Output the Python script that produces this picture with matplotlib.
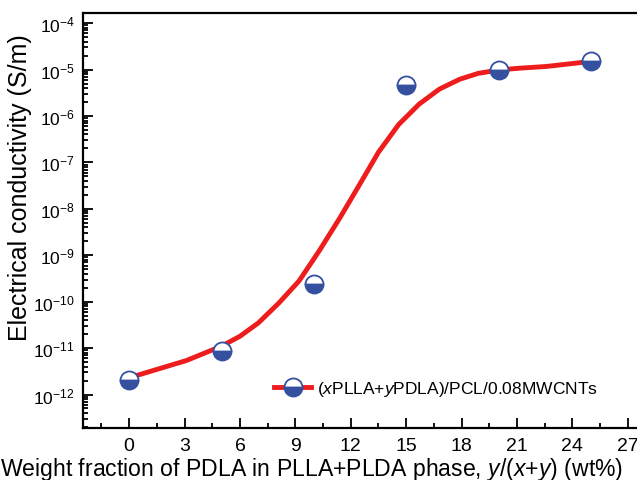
import matplotlib
matplotlib.use("Agg")
import matplotlib.pyplot as plt
from matplotlib.ticker import MultipleLocator, LogLocator, NullFormatter

plt.rcParams['font.family'] = ['Liberation Sans', 'DejaVu Sans']
plt.rcParams['mathtext.fontset'] = 'custom'
plt.rcParams['mathtext.rm'] = 'Liberation Sans'
plt.rcParams['mathtext.it'] = 'Liberation Sans:italic'

# measured points
pdla_frac = [0, 5, 10, 15, 20, 25]
conductivity = [2.1e-12, 8.5e-12, 2.4e-10, 4.7e-6, 1.0e-5, 1.5e-5]

# fitted curve
curve_x = [0, 1.2, 3.1, 5.0, 6.0, 7.0, 8.1, 9.2, 10.3, 11.4, 12.45, 13.5,
           14.6, 15.7, 16.8, 17.9, 18.9, 20.0, 21.1, 22.6, 25.0]
curve_y = [2.3e-12, 3.2e-12, 5.4e-12, 1.1e-11, 1.8e-11, 3.5e-11, 9.3e-11,
           2.8e-10, 1.26e-9, 6.3e-9, 3.2e-8, 1.66e-7, 6.6e-7, 1.8e-6,
           3.8e-6, 6.2e-6, 8.3e-6, 9.8e-6, 1.07e-5, 1.17e-5, 1.5e-5]

legend_label = r"($\it{x}$PLLA+$\it{y}$PDLA)/PCL/0.08MWCNTs"

red = '#ee1c1c'
blue = '#34509f'

fig = plt.figure(figsize=(6.37, 4.81), dpi=100)
ax = fig.add_axes([83/637, 1 - 429/481, 554/637, (429 - 13.5)/481])

ax.plot(curve_x, curve_y, color=red, lw=3.5, solid_capstyle='round',
        solid_joinstyle='round', zorder=2)
ax.plot(pdla_frac, conductivity, ls='none', marker='o', ms=13,
        fillstyle='bottom', markerfacecolor=blue, markerfacecoloralt='white',
        markeredgecolor=blue, markeredgewidth=1.3, zorder=3)

# legend proxy
h, = ax.plot([], [], color=red, lw=3.5, marker='o', ms=13, fillstyle='bottom',
             markerfacecolor=blue, markerfacecoloralt='white',
             markeredgecolor=blue, markeredgewidth=1.3)
ax.legend([h], [legend_label], loc='center left', bbox_to_anchor=(0.333, 0.094),
          frameon=False, fontsize=12.5, handlelength=2.1, handletextpad=0.35,
          borderaxespad=0)

ax.set_yscale('log')
ax.set_xlim(-2.5, 27.5)
ax.set_ylim(1.9e-13, 1.7e-4)

ax.xaxis.set_major_locator(MultipleLocator(3))
ax.xaxis.set_minor_locator(MultipleLocator(1.5))
ax.yaxis.set_major_locator(LogLocator(base=10, numticks=20))
ax.yaxis.set_minor_locator(LogLocator(base=10, subs=range(2, 10), numticks=20))
ax.yaxis.set_minor_formatter(NullFormatter())

ax.tick_params(which='both', direction='in', top=False, right=False, width=1.3)
ax.tick_params(which='major', length=7)
ax.tick_params(axis='x', which='major', pad=6.5, labelsize=14)
ax.tick_params(axis='y', which='major', pad=6, labelsize=12.5)
ax.tick_params(which='minor', length=3.5)

for s in ['left', 'bottom', 'top']:
    ax.spines[s].set_linewidth(1.6)
ax.spines['right'].set_visible(False)

ax.set_xlabel(r"Weight fraction of PDLA in PLLA+PLDA phase, $\it{y}$/($\it{x}$+$\it{y}$) (wt%)",
              fontsize=16.6)
ax.xaxis.set_label_coords(0.413, -0.066)
ax.set_ylabel("Electrical conductivity (S/m)", fontsize=18)
ax.yaxis.set_label_coords(-0.092, 0.58)

fig.savefig("out.png", dpi=100)
